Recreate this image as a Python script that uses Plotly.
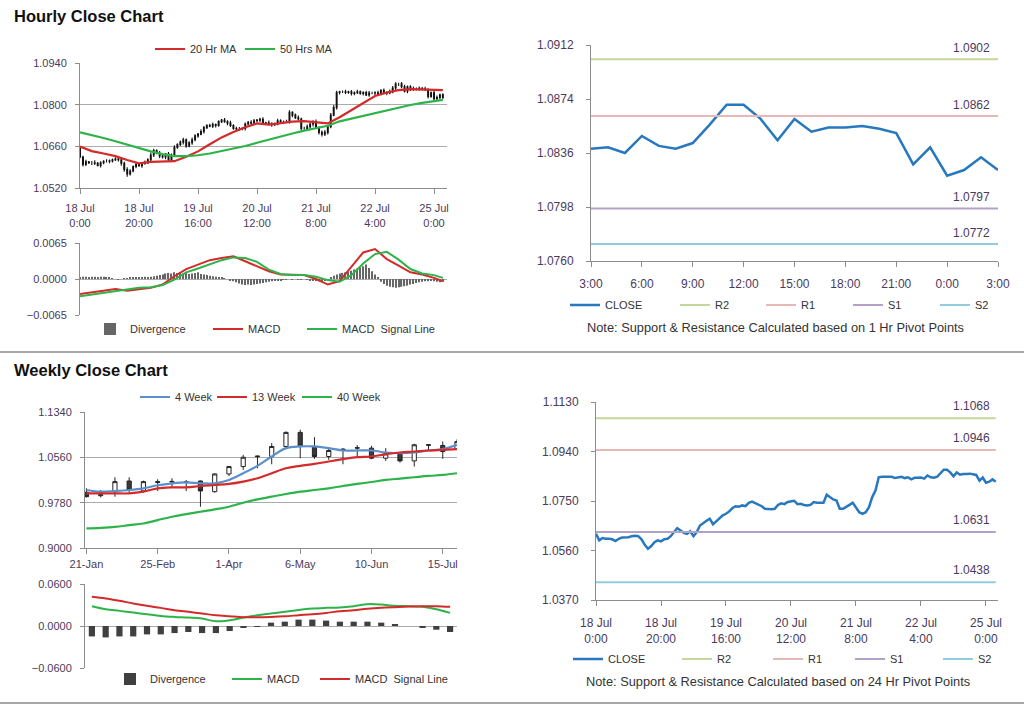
import plotly.graph_objects as go

# ---------------------------------------------------------------- data
hour_ticks = [0, 20, 40, 60, 80, 100, 120]
hour_tick_labels = ["18 Jul<br>0:00", "18 Jul<br>20:00", "19 Jul<br>16:00", "20 Jul<br>12:00",
                    "21 Jul<br>8:00", "22 Jul<br>4:00", "25 Jul<br>0:00"]

hourly_close = [
    1.0624, 1.0599, 1.0608, 1.0605, 1.0605, 1.0603, 1.0596, 1.0605, 1.0610, 1.0610,
    1.0611, 1.0615, 1.0617, 1.0615, 1.0603, 1.0582, 1.0567, 1.0577, 1.0592, 1.0599,
    1.0595, 1.0603, 1.0605, 1.0615, 1.0631, 1.0646, 1.0637, 1.0628, 1.0624, 1.0634,
    1.0615, 1.0631, 1.0656, 1.0666, 1.0674, 1.0682, 1.0661, 1.0672, 1.0682, 1.0695,
    1.0701, 1.0710, 1.0723, 1.0730, 1.0728, 1.0733, 1.0730, 1.0743, 1.0748, 1.0743,
    1.0738, 1.0730, 1.0720, 1.0718, 1.0718, 1.0720, 1.0735, 1.0741, 1.0738, 1.0746,
    1.0748, 1.0751, 1.0738, 1.0739, 1.0735, 1.0733, 1.0735, 1.0746, 1.0743, 1.0743,
    1.0743, 1.0774, 1.0765, 1.0756, 1.0752, 1.0720, 1.0720, 1.0726, 1.0735, 1.0743,
    1.0723, 1.0707, 1.0701, 1.0707, 1.0726, 1.0765, 1.0790, 1.0841, 1.0843, 1.0843,
    1.0841, 1.0843, 1.0838, 1.0840, 1.0843, 1.0838, 1.0841, 1.0833, 1.0839,
    1.0839, 1.0840, 1.0836, 1.0848, 1.0841, 1.0839, 1.0843, 1.0856, 1.0870, 1.0870,
    1.0860, 1.0845, 1.0860, 1.0851, 1.0854, 1.0854, 1.0855, 1.0853, 1.0850, 1.0828,
    1.0840, 1.0820, 1.0824, 1.0833, 1.0824]
hourly_first_open = 1.0655
hourly_upper_wick_pips = [
    5, 4, 7, 3, 6, 8, 4, 5, 3, 7, 5, 4, 6, 7, 4, 5, 8, 6, 4, 7,
    6, 4, 7, 5, 8, 6, 4, 7, 5, 4, 7, 5, 8, 4, 6, 7, 4, 5, 8, 6,
    4, 7, 5, 4, 6, 7, 4, 5, 4, 7, 5, 8, 4, 6, 7, 4, 5, 4, 7, 6,
    4, 5, 7, 4, 8, 6, 4, 7, 5, 4, 6, 7, 4, 5, 8, 4, 6, 7, 4, 5,
    7, 4, 6, 8, 5, 7, 9, 6, 4, 5, 7, 4, 6, 4, 7, 5, 4, 6, 7, 4,
    5, 7, 4, 6, 4, 8, 7, 5, 4, 6, 7, 4, 5, 7, 4, 6, 4, 7, 5, 4,
    6, 7, 4, 5]
hourly_lower_wick_pips = [
    4, 7, 5, 4, 8, 6, 4, 7, 5, 4, 7, 5, 4, 6, 8, 7, 9, 5, 4, 6,
    4, 7, 5, 4, 6, 7, 4, 8, 5, 7, 4, 6, 7, 4, 5, 8, 6, 4, 7, 5,
    6, 4, 7, 5, 4, 6, 7, 4, 5, 4, 7, 5, 4, 8, 6, 4, 7, 5, 4, 6,
    5, 7, 4, 6, 4, 7, 5, 4, 6, 7, 4, 6, 7, 4, 5, 8, 4, 6, 7, 8,
    5, 7, 8, 6, 7, 5, 4, 6, 7, 4, 5, 4, 7, 6, 4, 5, 7, 4, 6, 4,
    7, 5, 4, 6, 7, 4, 5, 8, 7, 5, 4, 7, 5, 4, 6, 7, 5, 4, 7, 5,
    6, 4, 7, 5]

ma_hours = [0, 4, 8, 12, 16, 20, 24, 28, 32, 36, 40, 44, 48, 52, 56, 60,
            64, 68, 72, 76, 80, 84, 88, 92, 96, 100, 104, 108, 112, 116, 120, 123]
ma20_hourly = [1.0659, 1.0644, 1.0636, 1.0627, 1.0614, 1.0603, 1.0608, 1.0610, 1.0610, 1.0625,
               1.0643, 1.0667, 1.0690, 1.0708, 1.0724, 1.0737, 1.0733, 1.0738, 1.0743, 1.0745,
               1.0740, 1.0737, 1.0758, 1.0782, 1.0806, 1.0829, 1.0841, 1.0849, 1.0852, 1.0851,
               1.0850, 1.0849]
ma50_hourly = [1.0707, 1.0698, 1.0688, 1.0677, 1.0665, 1.0653, 1.0643, 1.0634, 1.0627, 1.0627,
               1.0630, 1.0636, 1.0644, 1.0652, 1.0661, 1.0672, 1.0683, 1.0693, 1.0703, 1.0713,
               1.0721, 1.0729, 1.0744, 1.0753, 1.0763, 1.0772, 1.0782, 1.0791, 1.0799, 1.0806,
               1.0812, 1.0816]

hourly_macd = [-0.0027, -0.0024, -0.0021, -0.0018, -0.0021, -0.0018, -0.0016, -0.0010, 0.0005, 0.0018,
               0.0026, 0.0034, 0.0038, 0.0041, 0.0032, 0.0023, 0.0014, 0.0008, 0.0007, 0.0007,
               0.0000, -0.0010, -0.0004, 0.0023, 0.0048, 0.0054, 0.0036, 0.0024, 0.0012, 0.0008,
               0.0002, -0.0004]
hourly_signal = [-0.0031, -0.0028, -0.0024, -0.0021, -0.0019, -0.0016, -0.0015, -0.0011, -0.0001, 0.0012,
                 0.0019, 0.0027, 0.0034, 0.0039, 0.0038, 0.0031, 0.0017, 0.0009, 0.0007, 0.0007,
                 0.0004, -0.0002, -0.0005, 0.0007, 0.0028, 0.0045, 0.0049, 0.0035, 0.0018, 0.0010,
                 0.0007, 0.0002]
hourly_divergence = [
    0.0003, 0.0004, 0.0004, 0.0003, 0.0004, 0.0004, 0.0003, 0.0004, 0.0004, 0.0003, 0.0002,
    0.0001, 0.0000, -0.0001, 0.0000, 0.0001, 0.0001,
    0.0002, 0.0002, 0.0003, 0.0002, 0.0003, 0.0004, 0.0003, 0.0004, 0.0005,
    0.0006, 0.0007, 0.0008, 0.0010, 0.0011, 0.0010, 0.0012,
    0.0011, 0.0012, 0.0010, 0.0011, 0.0009, 0.0010, 0.0011, 0.0012, 0.0009, 0.0008,
    0.0007, 0.0006, 0.0005, 0.0004, 0.0003, 0.0002,
    0.0001, 0.0000, -0.0002, -0.0004,
    -0.0006, -0.0008, -0.0010, -0.0011, -0.0010, -0.0011, -0.0010, -0.0009, -0.0008, -0.0007, -0.0006, -0.0005,
    -0.0004, -0.0003, -0.0002, -0.0002, -0.0001, -0.0001,
    0.0000, -0.0001, 0.0000, -0.0001, -0.0001, 0.0000, -0.0001, -0.0002, -0.0002,
    -0.0003, -0.0004, -0.0004, -0.0003, -0.0002,
    0.0003, 0.0006, 0.0008, 0.0010, 0.0011, 0.0012, 0.0013, 0.0015, 0.0017, 0.0019, 0.0021, 0.0023, 0.0026, 0.0020,
    0.0014, 0.0008, 0.0002,
    -0.0005, -0.0009, -0.0012, -0.0014, -0.0015, -0.0016, -0.0015, -0.0014, -0.0013, -0.0012, -0.0010, -0.0009,
    -0.0007, -0.0006,
    -0.0005, -0.0004, -0.0004, -0.0003, -0.0004, -0.0005, -0.0006, -0.0005]

intraday_hours = 25
intraday_labels = ["3:00", "6:00", "9:00", "12:00", "15:00", "18:00", "21:00", "0:00", "3:00"]

pivot_names = ["R2", "R1", "S1", "S2"]
pivot_1h = [1.0902, 1.0862, 1.0797, 1.0772]
pivot_24h = [1.1068, 1.0946, 1.0631, 1.0438]

week_labels = ["21-Jan", "25-Feb", "1-Apr", "6-May", "10-Jun", "15-Jul"]
week_open = [0.9958, 0.9900, 0.9969, 1.0153, 0.9981, 1.0142, 1.0136, 1.0140, 1.0153, 0.9969,
             1.0274, 1.0401, 1.0570, 1.0574, 1.0747, 1.0989, 1.0735, 1.0574, 1.0680, 1.0718,
             1.0718, 1.0545, 1.0614, 1.0499, 1.0776, 1.0764, 1.0700]
week_close = [0.9883, 0.9915, 1.0142, 0.9998, 1.0142, 1.0130, 1.0145, 1.0130, 0.9981, 1.0274,
              1.0401, 1.0562, 1.0580, 1.0747, 1.0989, 1.0758, 1.0574, 1.0678, 1.0700, 1.0724,
              1.0545, 1.0620, 1.0499, 1.0776, 1.0770, 1.0660, 1.0830]
week_high = [1.0027, 0.9995, 1.0217, 1.0217, 1.0159, 1.0182, 1.0200, 1.0170, 1.0160, 1.0286,
             1.0413, 1.0603, 1.0590, 1.0804, 1.1006, 1.1035, 1.0908, 1.0735, 1.0718, 1.0770,
             1.0758, 1.0718, 1.0632, 1.0793, 1.0790, 1.0833, 1.0870]
week_low = [0.9870, 0.9870, 0.9883, 0.9952, 0.9952, 0.9981, 1.0055, 0.9980, 0.9710, 0.9952,
            1.0240, 1.0344, 1.0372, 1.0441, 1.0701, 1.0545, 1.0534, 1.0516, 1.0441, 1.0562,
            1.0528, 1.0499, 1.0470, 1.0401, 1.0678, 1.0534, 1.0700]
wma4 = [0.9998, 0.9969, 0.9981, 0.9998, 1.0027, 1.0079, 1.0113, 1.0130, 1.0113, 1.0113,
        1.0171, 1.0286, 1.0413, 1.0574, 1.0718, 1.0747, 1.0747, 1.0718, 1.0678, 1.0678,
        1.0678, 1.0643, 1.0632, 1.0643, 1.0678, 1.0701, 1.0776]
wma13 = [0.9940, 0.9940, 0.9940, 0.9940, 0.9969, 1.0027, 1.0044, 1.0044, 1.0067, 1.0084,
         1.0102, 1.0142, 1.0200, 1.0286, 1.0372, 1.0413, 1.0447, 1.0488, 1.0528, 1.0562,
         1.0574, 1.0614, 1.0643, 1.0660, 1.0678, 1.0689, 1.0701]
wma40 = [0.9336, 0.9347, 0.9364, 0.9393, 0.9422, 0.9480, 0.9537, 0.9583, 0.9624, 0.9664,
         0.9710, 0.9779, 0.9837, 0.9883, 0.9929, 0.9969, 0.9998, 1.0027, 1.0067, 1.0102,
         1.0136, 1.0171, 1.0194, 1.0217, 1.0240, 1.0257, 1.0286]
weekly_macd = [0.0283, 0.0240, 0.0216, 0.0192, 0.0168, 0.0144, 0.0130, 0.0120, 0.0106, 0.0067,
               0.0082, 0.0120, 0.0154, 0.0178, 0.0202, 0.0230, 0.0250, 0.0259, 0.0264, 0.0283,
               0.0312, 0.0307, 0.0288, 0.0283, 0.0274, 0.0240, 0.0187]
weekly_signal = [0.0418, 0.0394, 0.0360, 0.0322, 0.0288, 0.0259, 0.0226, 0.0202, 0.0178, 0.0154,
                 0.0139, 0.0125, 0.0125, 0.0130, 0.0139, 0.0154, 0.0168, 0.0187, 0.0211, 0.0226,
                 0.0245, 0.0259, 0.0269, 0.0278, 0.0283, 0.0283, 0.0274]
weekly_divergence = [-0.0149, -0.0163, -0.0149, -0.0149, -0.0120, -0.0120, -0.0101, -0.0086, -0.0101, -0.0101,
                     -0.0072, -0.0029, -0.0010, 0.0048, 0.0062, 0.0091, 0.0091, 0.0077, 0.0062, 0.0062,
                     0.0062, 0.0048, 0.0019, 0.0000, -0.0024, -0.0053, -0.0086]

# ---------------------------------------------------------------- styling
W, H = 1024, 706
FONT = "Liberation Sans, Arial, sans-serif"
TICKC = "#4B3A5C"
GRID = "#ABABAB"
AXIS = "#8C8C8C"
TXT = "#333333"
RED = "#D42A2A"
GREEN = "#2DB34A"
BLUE = "#2878BE"
LBLUE = "#5B8FCB"
PIVOT_COLORS = ["#C3D69B", "#E6B9B8", "#B3A2C7", "#93CDDD"]


def xd(a, b):
    return [a / W, b / W]


def yd(top, bottom):
    return [1 - bottom / H, 1 - top / H]


n_h = len(hourly_close)
hour_idx = list(range(n_h))
hourly_open = [hourly_first_open] + hourly_close[:-1]
hourly_high = [max(o, c) + u / 10000 for o, c, u in zip(hourly_open, hourly_close, hourly_upper_wick_pips)]
hourly_low = [min(o, c) - d / 10000 for o, c, d in zip(hourly_open, hourly_close, hourly_lower_wick_pips)]

intraday_close = hourly_close[-intraday_hours:]
intra_idx = list(range(intraday_hours))
week_idx = list(range(len(week_close)))

fig = go.Figure()
legends = {}


def leg(px, py):
    """allocate a one-entry legend whose item starts at pixel (px, py)"""
    key = "legend" if not legends else f"legend{len(legends) + 1}"
    legends[key] = dict(x=(px - 5) / W, y=1 - py / H, xanchor="left", yanchor="middle",
                        orientation="h", bgcolor="rgba(0,0,0,0)",
                        font=dict(size=11, color=TXT, family=FONT),
                        itemclick=False, itemdoubleclick=False)
    return key


def line_trace(x, y, name, color, xa, ya, lp, width=2.2, shape="linear"):
    fig.add_trace(go.Scatter(x=x, y=y, mode="lines", name=name, line=dict(color=color, width=width, shape=shape),
                             xaxis=xa, yaxis=ya, legend=leg(*lp)))


# ---- A: hourly candles + MAs
fig.add_trace(go.Candlestick(
    x=hour_idx, open=hourly_open, high=hourly_high, low=hourly_low, close=hourly_close,
    xaxis="x", yaxis="y", showlegend=False, hoverinfo="skip", whiskerwidth=0,
    increasing=dict(line=dict(color="#111111", width=1.1), fillcolor="#FFFFFF"),
    decreasing=dict(line=dict(color="#111111", width=1.1), fillcolor="#111111")))
line_trace(ma_hours, ma20_hourly, "20 Hr MA", RED, "x", "y", (155, 49))
line_trace(ma_hours, ma50_hourly, "50 Hrs MA", GREEN, "x", "y", (245, 49))

# ---- B: hourly MACD
fig.add_trace(go.Bar(x=hour_idx, y=hourly_divergence, name="Divergence", marker=dict(color="#666666", line=dict(width=0)),
                     width=0.4, xaxis="x2", yaxis="y2", legend=leg(95, 329)))
line_trace(ma_hours, hourly_macd, "MACD", RED, "x2", "y2", (213, 329), width=2)
line_trace(ma_hours, hourly_signal, "MACD  Signal Line", GREEN, "x2", "y2", (307, 329), width=2)

# ---- C: intraday close with 1 Hr pivots
line_trace(intra_idx, intraday_close, "CLOSE", BLUE, "x3", "y3", (570, 305), width=2.5)
for name, lvl, col, lx in zip(pivot_names, pivot_1h, PIVOT_COLORS, [680, 766, 853, 940]):
    line_trace(intra_idx, [lvl] * len(intra_idx), name, col, "x3", "y3", (lx, 305), width=2)

# ---- D: weekly candles + MAs
fig.add_trace(go.Candlestick(
    x=week_idx, open=week_open, high=week_high, low=week_low, close=week_close,
    xaxis="x4", yaxis="y4", showlegend=False, hoverinfo="skip", whiskerwidth=0,
    increasing=dict(line=dict(color="#222222", width=1), fillcolor="#FFFFFF"),
    decreasing=dict(line=dict(color="#222222", width=1), fillcolor="#3A3A3A")))
line_trace(week_idx, wma4, "4 Week", LBLUE, "x4", "y4", (140, 397), shape="spline")
line_trace(week_idx, wma13, "13 Week", RED, "x4", "y4", (217, 397), shape="spline")
line_trace(week_idx, wma40, "40 Week", GREEN, "x4", "y4", (302, 397), shape="spline")

# ---- E: weekly MACD
fig.add_trace(go.Bar(x=week_idx, y=weekly_divergence, name="Divergence", marker=dict(color="#404040", line=dict(width=0)),
                     width=0.45, xaxis="x5", yaxis="y5", legend=leg(115, 679)))
line_trace(week_idx, weekly_macd, "MACD", GREEN, "x5", "y5", (232, 679), width=2, shape="spline")
line_trace(week_idx, weekly_signal, "MACD  Signal Line", RED, "x5", "y5", (320, 679), width=2, shape="spline")

# ---- F: hourly close with 24 Hr pivots
line_trace(hour_idx, hourly_close, "CLOSE", BLUE, "x6", "y6", (573, 659), width=2.5)
for name, lvl, col, lx in zip(pivot_names, pivot_24h, PIVOT_COLORS, [682, 773, 855, 943]):
    line_trace(hour_idx, [lvl] * n_h, name, col, "x6", "y6", (lx, 659), width=2)


def yaxis(domain, rng, anchor, tickvals, grid=True, size=11, standoff=6):
    return dict(domain=domain, range=rng, anchor=anchor, tickvals=tickvals, tickformat=".4f",
                showgrid=grid, gridcolor=GRID, gridwidth=1, zeroline=False,
                showline=True, linecolor=AXIS, linewidth=1, ticks="outside", ticklen=4, tickcolor=AXIS,
                ticklabelstandoff=standoff,
                tickfont=dict(size=size, color=TICKC, family=FONT), fixedrange=True)


def xaxis(domain, rng, anchor, tickvals=None, ticktext=None, size=11, show=True, standoff=0):
    d = dict(domain=domain, range=rng, anchor=anchor, showgrid=False, zeroline=False, fixedrange=True,
             rangeslider=dict(visible=False))
    if show:
        d.update(tickvals=tickvals, ticktext=ticktext, showline=True, linecolor=AXIS, linewidth=1,
                 ticks="outside", ticklen=5, tickcolor=AXIS, ticklabelstandoff=standoff,
                 tickfont=dict(size=size, color=TICKC, family=FONT))
    else:
        d.update(showticklabels=False, showline=False, ticks="")
    return d


a_y = [1.0520 + 0.014 * k for k in range(4)]
b_y = [-0.0065, 0.0, 0.0065]
c_y = [1.0760 + 0.0038 * k for k in range(5)]
d_y = [0.9000 + 0.078 * k for k in range(4)]
e_y = [-0.06, 0.0, 0.06]
f_y = [1.0370 + 0.019 * k for k in range(5)]

fig.update_layout(
    width=W, height=H, margin=dict(l=0, r=0, t=0, b=0, autoexpand=False),
    paper_bgcolor="white", plot_bgcolor="white", boxgap=0.58,
    font=dict(family=FONT, color=TXT),
    xaxis=xaxis(xd(80, 447), [0, 124.4], "y", hour_ticks, hour_tick_labels, standoff=5),
    yaxis=yaxis(yd(63, 188), [1.0520, 1.0940], "x", a_y),
    xaxis2=xaxis(xd(80, 447), [0, 124.4], "y2", show=False),
    yaxis2=yaxis(yd(243, 315), [-0.0065, 0.0065], "x2", b_y),
    xaxis3=xaxis(xd(591, 998), [0, 24], "y3", list(range(0, 25, 3)), intraday_labels, size=12, standoff=7),
    yaxis3=yaxis(yd(45, 261), [1.0760, 1.0912], "x3", c_y, grid=False, size=12, standoff=10),
    xaxis4=xaxis(xd(85, 457), [-0.1, 26.0], "y4", [0, 5, 10, 15, 20, 25], week_labels, standoff=1),
    yaxis4=yaxis(yd(412, 548), [0.9000, 1.1340], "x4", d_y),
    xaxis5=xaxis(xd(85, 457), [-0.5, 26.5], "y5", show=False),
    yaxis5=yaxis(yd(584, 668), [-0.06, 0.06], "x5", e_y),
    xaxis6=xaxis(xd(596, 998), [0, 123.7], "y6", hour_ticks, hour_tick_labels, size=12, standoff=7),
    yaxis6=yaxis(yd(402, 600), [1.0370, 1.1130], "x6", f_y, grid=False, size=12, standoff=10),
    showlegend=True,
    hovermode=False,
)
fig.update_layout(**legends)

ann = [
    dict(text="<b>Hourly Close Chart</b>", x=12 / W, y=1 - 16 / H, xref="paper", yref="paper",
         xanchor="left", yanchor="middle", showarrow=False, font=dict(size=16.5, color="#111111", family=FONT)),
    dict(text="<b>Weekly Close Chart</b>", x=12 / W, y=1 - 370 / H, xref="paper", yref="paper",
         xanchor="left", yanchor="middle", showarrow=False, font=dict(size=16.5, color="#111111", family=FONT)),
    dict(text="Note: Support & Resistance Calculated based on 1 Hr Pivot Points", x=775 / W, y=1 - 327 / H,
         xref="paper", yref="paper", xanchor="center", yanchor="middle", showarrow=False,
         font=dict(size=12.8, color=TXT, family=FONT)),
    dict(text="Note: Support & Resistance Calculated based on 24 Hr Pivot Points", x=778 / W, y=1 - 681 / H,
         xref="paper", yref="paper", xanchor="center", yanchor="middle", showarrow=False,
         font=dict(size=12.8, color=TXT, family=FONT)),
]
for lvl in pivot_1h:
    ann.append(dict(text=f"{lvl:.4f}", x=intra_idx[-1], y=lvl, xref="x3", yref="y3", xanchor="right",
                    yanchor="bottom", xshift=-6, yshift=2, showarrow=False,
                    font=dict(size=12, color=TICKC, family=FONT)))
for lvl in pivot_24h:
    ann.append(dict(text=f"{lvl:.4f}", x=hour_idx[-1], y=lvl, xref="x6", yref="y6", xanchor="right",
                    yanchor="bottom", xshift=-4, yshift=3, showarrow=False,
                    font=dict(size=12, color=TICKC, family=FONT)))
fig.update_layout(annotations=ann)

fig.update_layout(shapes=[
    dict(type="line", xref="paper", yref="paper", x0=0, x1=1, y0=1 - 352 / H, y1=1 - 352 / H,
         line=dict(color="#8A8A8A", width=1.5)),
    dict(type="line", xref="paper", yref="paper", x0=0, x1=1, y0=1 - 703 / H, y1=1 - 703 / H,
         line=dict(color="#8A8A8A", width=1.5)),
])

fig.write_html("out.html", config={"displayModeBar": False},
               post_script="document.body.style.margin='0px';")
